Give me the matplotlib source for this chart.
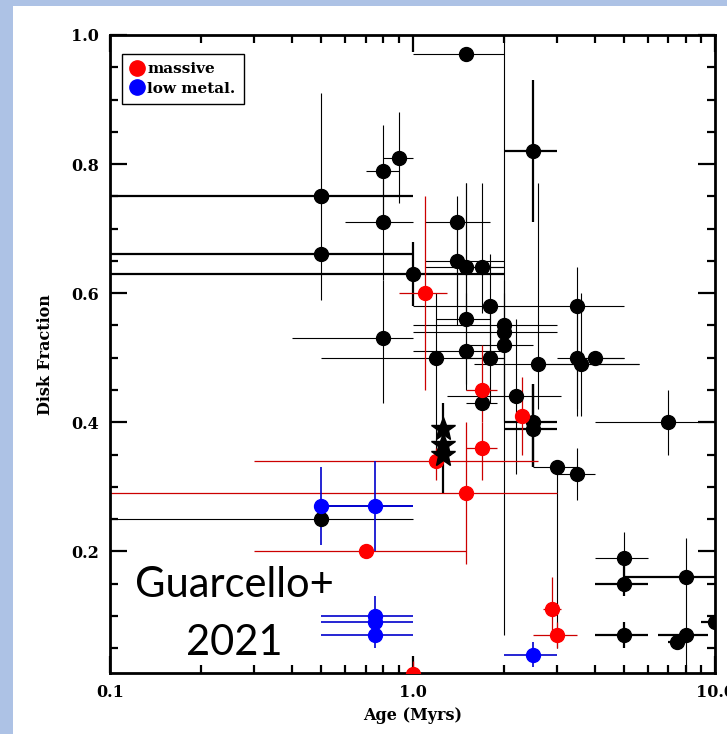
import numpy as np
import matplotlib
matplotlib.use('Agg')
import matplotlib.pyplot as plt
from matplotlib.lines import Line2D
from matplotlib.patches import Rectangle
from matplotlib.ticker import MultipleLocator, FixedLocator, NullFormatter

# black points, thin error bars
blk_age = [0.8, 0.9, 0.8, 0.8, 1.5, 1.4, 1.4, 1.5, 1.7, 1.8, 3.5, 1.5, 2.0, 2.0,
           2.0, 1.5, 1.2, 1.8, 2.6, 3.5, 3.6, 4.0, 1.7, 2.2, 3.5, 7.0, 0.5, 5.0, 3.0, 0.5]
blk_frac = [0.79, 0.81, 0.71, 0.53, 0.97, 0.71, 0.65, 0.64, 0.64, 0.58, 0.58, 0.56, 0.55, 0.54,
            0.52, 0.51, 0.50, 0.50, 0.49, 0.50, 0.49, 0.50, 0.43, 0.44, 0.32, 0.40, 0.25, 0.19, 0.33, 0.75]
blk_age_lo = [0.7, 0.8, 0.6, 0.4, 1.0, 1.1, 1.1, 1.1, 1.5, 1.0, 2.6, 1.2, 1.0, 1.0,
              1.5, 1.0, 0.5, 1.5, 1.6, 3.0, 2.6, 3.5, 1.5, 1.3, 3.0, 4.0, 0.1, 4.0, 2.5, 0.5]
blk_age_hi = [0.9, 1.0, 1.0, 1.0, 2.0, 1.8, 2.0, 2.0, 2.0, 2.6, 5.0, 1.8, 3.0, 3.0,
              2.5, 2.0, 2.0, 2.0, 5.6, 5.0, 5.6, 5.0, 1.9, 3.1, 4.0, 10.5, 1.0, 6.0, 3.5, 0.5]
blk_frac_lo = [0.70, 0.74, 0.62, 0.43, 0.97, 0.55, 0.58, 0.56, 0.57, 0.50, 0.42, 0.46, 0.07, 0.40,
               0.44, 0.45, 0.34, 0.43, 0.42, 0.41, 0.41, 0.50, 0.43, 0.32, 0.28, 0.35, 0.25, 0.15, 0.05, 0.59]
blk_frac_hi = [0.86, 0.88, 0.80, 0.62, 0.97, 0.75, 0.72, 0.77, 0.77, 0.66, 0.64, 0.77, 1.00, 0.62,
               0.60, 0.60, 0.60, 0.57, 0.77, 0.58, 0.60, 0.50, 0.43, 0.56, 0.36, 0.45, 0.25, 0.23, 0.33, 0.91]

# black points, thick error bars
bold_age = [0.5, 0.5, 1.0, 2.5, 2.5, 2.5, 5.0, 8.0, 5.0, 8.0, 7.5, 10.0]
bold_frac = [0.75, 0.66, 0.63, 0.82, 0.40, 0.39, 0.15, 0.16, 0.07, 0.07, 0.06, 0.09]
bold_age_lo = [0.1, 0.1, 0.1, 2.0, 2.0, 2.0, 4.0, 5.0, 4.0, 6.5, 7.0, 9.0]
bold_age_hi = [1.0, 1.0, 2.0, 3.0, 3.0, 3.0, 6.0, 11.0, 6.0, 9.5, 8.0, 11.0]
bold_frac_lo = [0.75, 0.66, 0.58, 0.71, 0.33, 0.33, 0.13, 0.16, 0.05, 0.07, 0.06, 0.09]
bold_frac_hi = [0.75, 0.66, 0.68, 0.93, 0.46, 0.46, 0.19, 0.16, 0.09, 0.07, 0.06, 0.09]

# thin vertical bar of the 8 Myr point
tail_age = [8.0]
tail_frac = [0.16]
tail_frac_lo = [0.0]
tail_frac_hi = [0.22]

# stars
star_age = [1.26, 1.26, 1.26]
star_frac = [0.39, 0.365, 0.35]
star_frac_lo = [0.29, 0.365, 0.35]
star_frac_hi = [0.43, 0.365, 0.35]

# massive regions
red_age = [1.1, 1.2, 1.7, 1.7, 1.5, 2.3, 0.7, 2.9, 3.0, 1.0]
red_frac = [0.60, 0.34, 0.45, 0.36, 0.29, 0.41, 0.20, 0.11, 0.07, 0.01]
red_age_lo = [0.9, 0.3, 1.5, 1.5, 0.1, 2.3, 0.3, 2.7, 2.5, 0.5]
red_age_hi = [1.3, 2.6, 1.9, 1.9, 3.0, 2.3, 1.5, 3.1, 3.5, 1.5]
red_frac_lo = [0.45, 0.31, 0.40, 0.31, 0.18, 0.35, 0.20, 0.07, 0.05, 0.01]
red_frac_hi = [0.75, 0.36, 0.52, 0.40, 0.40, 0.47, 0.20, 0.16, 0.09, 0.03]

# low metallicity regions
blue_age = [0.5, 0.75, 0.75, 0.75, 0.75, 2.5]
blue_frac = [0.27, 0.27, 0.10, 0.09, 0.07, 0.04]
blue_age_lo = [0.5, 0.5, 0.5, 0.5, 0.5, 2.0]
blue_age_hi = [1.0, 1.0, 1.0, 1.0, 1.0, 3.0]
blue_frac_lo = [0.21, 0.20, 0.05, 0.09, 0.07, 0.02]
blue_frac_hi = [0.33, 0.34, 0.13, 0.10, 0.07, 0.06]

W, H = 727, 734
fig = plt.figure(figsize=(W / 100, H / 100), dpi=100)
fig.patch.set_facecolor('#adc2e5')
fig.patches.append(Rectangle((13 / W, 0), 1, 1 - 6 / H, transform=fig.transFigure,
                             facecolor='white', edgecolor='none', zorder=-1))

ax = fig.add_axes([110 / W, 1 - 673.3 / H, 605 / W, (673.3 - 35) / H])
ax.set_facecolor('white')


def draw(age, frac, alo, ahi, flo, fhi, ecol, lw):
    age = np.array(age); frac = np.array(frac)
    xerr = [age - np.array(alo), np.array(ahi) - age]
    yerr = [frac - np.array(flo), np.array(fhi) - frac]
    ax.errorbar(age, frac, xerr=xerr, yerr=yerr, fmt='none', ecolor=ecol,
                elinewidth=lw, capsize=0, zorder=2)


draw(blk_age, blk_frac, blk_age_lo, blk_age_hi, blk_frac_lo, blk_frac_hi, 'black', 0.8)
draw(bold_age, bold_frac, bold_age_lo, bold_age_hi, bold_frac_lo, bold_frac_hi, 'black', 1.6)
draw(tail_age, tail_frac, tail_age, tail_age, tail_frac_lo, tail_frac_hi, 'black', 0.8)
draw(red_age, red_frac, red_age_lo, red_age_hi, red_frac_lo, red_frac_hi, '#cc0000', 0.9)
draw(blue_age, blue_frac, blue_age_lo, blue_age_hi, blue_frac_lo, blue_frac_hi, '#0000cc', 1.2)
draw(star_age, star_frac, star_age, star_age, star_frac_lo, star_frac_hi, 'black', 1.6)

ms = 10
ax.plot(blk_age, blk_frac, 'o', color='black', ms=ms, zorder=3)
ax.plot(bold_age, bold_frac, 'o', color='black', ms=ms, zorder=3)
ax.plot(red_age, red_frac, 'o', color='#ff0000', ms=ms, zorder=4)
ax.plot(blue_age, blue_frac, 'o', color='#0000ff', ms=ms, zorder=4)
ax.plot(star_age, star_frac, '*', color='black', ms=18, zorder=5)

ax.set_xscale('log')
ax.set_xlim(0.1, 10)
ax.set_ylim(0.011, 1.0)

tfont = dict(family='DejaVu Serif', weight='bold', size=11.5)
ax.set_xticks([0.1, 1.0, 10.0])
ax.set_xticklabels(['0.1', '1.0', '10.0'], **tfont)
ax.xaxis.set_minor_locator(FixedLocator([m * d for d in (0.1, 1.0) for m in range(2, 10)]))
ax.xaxis.set_minor_formatter(NullFormatter())
ax.set_yticks([0.2, 0.4, 0.6, 0.8, 1.0])
ax.set_yticklabels(['0.2', '0.4', '0.6', '0.8', '1.0'], **tfont)
ax.yaxis.set_minor_locator(MultipleLocator(0.05))
ax.tick_params(which='both', direction='in', top=True, right=True, width=1.6)
ax.tick_params(which='major', length=12, pad=8)
ax.tick_params(which='minor', length=6)
for s in ax.spines.values():
    s.set_linewidth(2)

ax.set_xlabel('Age (Myrs)', family='DejaVu Serif', weight='bold', size=11.5, labelpad=4)
ax.set_ylabel('Disk Fraction', family='DejaVu Serif', weight='bold', size=11.5, labelpad=12)

# legend
handles = [Line2D([], [], marker='o', ls='none', color='#ff0000', ms=11),
           Line2D([], [], marker='o', ls='none', color='#0000ff', ms=11)]
leg = ax.legend(handles, ['massive', 'low metal.'], loc='upper left',
                bbox_to_anchor=(12 / 605, (673.3 - 54) / 638.3), borderaxespad=0,
                prop=dict(family='DejaVu Serif', weight='bold', size=11),
                fancybox=False, edgecolor='black', framealpha=1, handlelength=0.8,
                handletextpad=0.3, borderpad=0.55, labelspacing=0.35)
leg.get_frame().set_linewidth(1)

fig.text(234 / W, 1 - 585 / H, 'Guarcello+', family='Lato', size=30, ha='center', va='center')
fig.text(234 / W, 1 - 643 / H, '2021', family='Lato', size=30, ha='center', va='center')

fig.savefig('out.png', dpi=100, facecolor=fig.get_facecolor())
